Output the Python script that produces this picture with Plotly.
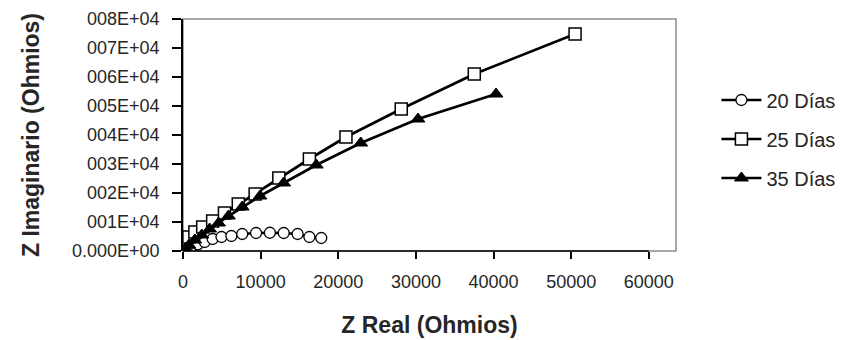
import plotly.graph_objects as go

# ---- data ----
x20 = [250, 760, 1270, 1910, 2800, 3820, 4960, 6230, 7630, 9410, 11190, 12970, 14760, 16280, 17810]
y20 = [340, 1030, 1720, 2300, 3100, 4140, 4830, 5170, 5860, 6210, 6300, 6210, 5860, 4830, 4480]

x25 = [100, 380, 760, 1530, 2540, 3820, 5340, 7120, 9290, 12340, 16280, 20990, 28110, 37520, 50500]
y25 = [1000, 2760, 4830, 6550, 8280, 10340, 13100, 16200, 19650, 25170, 31720, 39310, 48960, 61030, 74820]

x35 = [250, 760, 1530, 2420, 3430, 4580, 5850, 7630, 9920, 12970, 17170, 22900, 30270, 40320]
y35 = [690, 2070, 3790, 5520, 7590, 9650, 12070, 15170, 18960, 23450, 29650, 37240, 45510, 54130]

series_names = ["20 Días", "25 Días", "35 Días"]

x_ticks = [0, 10000, 20000, 30000, 40000, 50000, 60000]
x_tick_text = ["0", "10000", "20000", "30000", "40000", "50000", "60000"]
y_ticks = [0, 10000, 20000, 30000, 40000, 50000, 60000, 70000, 80000]
y_tick_text = ["0.000E+00", "001E+04", "002E+04", "003E+04", "004E+04",
               "005E+04", "006E+04", "007E+04", "008E+04"]

FONT = "Liberation Sans, Arial, sans-serif"
TXT = "#262626"

fig = go.Figure()
fig.add_trace(go.Scatter(
    x=x20, y=y20, name=series_names[0], legendgroup="a", mode="lines+markers",
    line=dict(color="black", width=2.5),
    marker=dict(symbol="circle", size=11, color="white", line=dict(color="black", width=1.3)),
))
fig.add_trace(go.Scatter(
    x=x25, y=y25, name=series_names[1], legendgroup="b", mode="lines+markers",
    line=dict(color="black", width=2.7),
    marker=dict(symbol="square", size=12, color="white", line=dict(color="black", width=1.5)),
))
fig.add_trace(go.Scatter(
    x=x35, y=y35, name=series_names[2], legendgroup="c", mode="lines+markers",
    line=dict(color="black", width=2.7),
    marker=dict(symbol="triangle-up", size=12, color="black", line=dict(color="black", width=1)),
))

# gray plot-area border and black x-axis line up to the last tick
fig.add_shape(type="rect", xref="paper", yref="paper", x0=0, x1=1, y0=0, y1=1,
              line=dict(color="#8c8c8c", width=1.5), layer="below")
fig.add_shape(type="line", xref="x", yref="paper", x0=0, x1=x_ticks[-1], y0=0, y1=0,
              line=dict(color="black", width=1.5))

fig.update_layout(
    width=843, height=332,
    margin=dict(l=175, r=169, t=11, b=89),
    paper_bgcolor="white", plot_bgcolor="white",
    font=dict(family=FONT, size=18, color=TXT),
    showlegend=True,
    legend=dict(x=1.082, xanchor="left", y=0.735, yanchor="top",
                font=dict(family=FONT, size=20, color=TXT),
                tracegroupgap=10, bgcolor="rgba(0,0,0,0)", itemwidth=40),
    xaxis=dict(range=[0, 63500], tickvals=x_ticks, ticktext=x_tick_text, showgrid=False,
               zeroline=False, automargin=False,
               showline=False, ticks="outside", ticklen=7, tickwidth=1.5, tickcolor="black",
               ticklabelstandoff=7,
               tickfont=dict(family=FONT, size=18, color=TXT),
               title=dict(text="<b>Z Real (Ohmios)</b>", font=dict(family=FONT, size=23, color=TXT),
                          standoff=26)),
    yaxis=dict(range=[0, 80000], tickvals=y_ticks, ticktext=y_tick_text, showgrid=False,
               zeroline=False, showline=True, linecolor="black", linewidth=1.5, automargin=False,
               ticks="outside", ticklen=9, tickwidth=1.5, tickcolor="black",
               ticklabelstandoff=9,
               tickfont=dict(family=FONT, size=18, color=TXT),
               title=dict(text="<b>Z Imaginario (Ohmios)</b>", font=dict(family=FONT, size=23, color=TXT),
                          standoff=26)),
)

fig.write_html("out.html")
